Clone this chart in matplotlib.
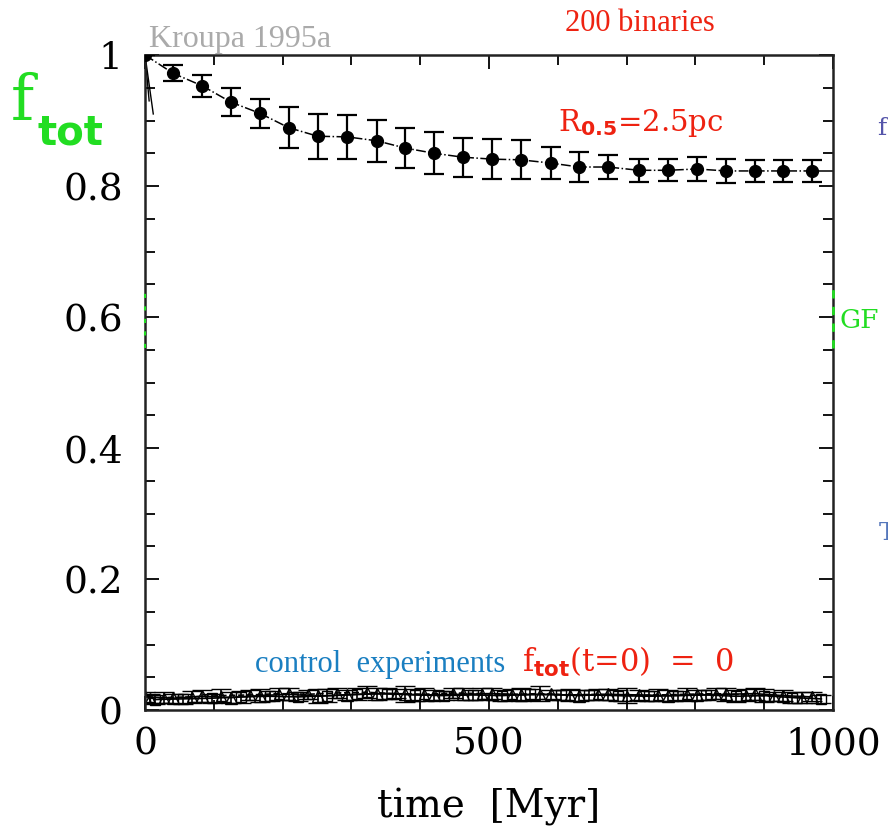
import matplotlib.pyplot as plt
import matplotlib.ticker as mticker

# main run: 200 binaries, R_0.5 = 2.5 pc
t_main = [0, 41, 83, 125, 167, 209, 251, 294, 337, 378, 420, 462,
          505, 546, 590, 631, 673, 718, 760, 802, 845, 886, 927, 969]
f_main = [1.0, 0.972, 0.953, 0.928, 0.911, 0.889, 0.876, 0.875, 0.869, 0.858, 0.850, 0.844,
          0.841, 0.840, 0.835, 0.829, 0.829, 0.824, 0.824, 0.826, 0.823, 0.823, 0.823, 0.823]
e_main = [0.0, 0.012, 0.017, 0.021, 0.022, 0.031, 0.034, 0.034, 0.032, 0.030, 0.032, 0.030,
          0.031, 0.030, 0.025, 0.023, 0.019, 0.018, 0.017, 0.018, 0.018, 0.017, 0.017, 0.017]

# control experiments, f_tot(t=0) = 0
t_ctrl_a = [0, 41, 83, 125, 167, 209, 251, 294, 337, 378, 420, 462,
            505, 546, 590, 631, 673, 718, 760, 802, 845, 886, 927, 969]
f_ctrl_a = [0.020, 0.018, 0.021, 0.019, 0.022, 0.024, 0.021, 0.023, 0.025, 0.024, 0.023, 0.024,
            0.025, 0.023, 0.024, 0.022, 0.024, 0.023, 0.022, 0.023, 0.024, 0.025, 0.022, 0.020]
t_ctrl_b = [14, 55, 97, 139, 181, 223, 265, 308, 351, 392, 434, 476,
            519, 560, 604, 645, 687, 732, 774, 816, 859, 900, 941, 983]
f_ctrl_b = [0.016, 0.017, 0.018, 0.020, 0.021, 0.020, 0.022, 0.024, 0.025, 0.023, 0.022, 0.023,
            0.022, 0.024, 0.023, 0.023, 0.022, 0.021, 0.022, 0.023, 0.021, 0.022, 0.019, 0.017]
t_ctrl_c = [7, 28, 69, 111, 153, 195, 237, 279, 322, 365, 406, 448,
            490, 533, 574, 618, 659, 701, 746, 788, 830, 873, 914, 955]
f_ctrl_c = [0.018, 0.019, 0.020, 0.022, 0.023, 0.025, 0.024, 0.026, 0.027, 0.025, 0.024, 0.026,
            0.025, 0.024, 0.025, 0.023, 0.024, 0.022, 0.023, 0.024, 0.025, 0.023, 0.021, 0.019]
e_ctrl_a = [0.008, 0.007, 0.009, 0.008, 0.010, 0.009, 0.011, 0.008, 0.009, 0.012, 0.008, 0.009,
            0.008, 0.010, 0.007, 0.009, 0.008, 0.007, 0.009, 0.008, 0.010, 0.009, 0.008, 0.007]
e_ctrl_b = [0.007, 0.008, 0.007, 0.009, 0.008, 0.007, 0.010, 0.009, 0.008, 0.009, 0.007, 0.008,
            0.009, 0.008, 0.008, 0.007, 0.009, 0.008, 0.007, 0.008, 0.009, 0.010, 0.008, 0.006]

# vertical drop at t=0 and the GF marks
t_drop = [0, 0]
f_drop = [1.0, 0.0]
f_gf = [0.553, 0.646]

fig = plt.figure(figsize=(8.88, 8.31), dpi=100)
ax = fig.add_axes([0.1633, 0.1456, 0.7748, 0.7882])

ax.plot(t_drop, f_drop, color='k', lw=1.2, ls=(0, (5, 3)))
ax.plot([t_main[0], 12], [f_main[0], 0.91], color='k', lw=1.0)
ax.plot([t_main[0], 6], [f_main[0], 0.93], color='k', lw=1.0)
ax.plot([0, 0], f_gf, color='#22dd22', lw=1.5, ls=(0, (2, 4)), zorder=5, clip_on=False)
ax.plot([1000, 1000], f_gf, color='#22dd22', lw=2.0, ls=(0, (3, 3)), zorder=5, clip_on=False)

ax.errorbar(t_main, f_main, yerr=e_main, fmt='o', color='k', ms=8.5,
            ecolor='k', elinewidth=1.6, capsize=7, capthick=1.6, zorder=4)
ax.plot(t_main, f_main, color='k', lw=1.1, ls='-.')
ax.plot([t_main[-1], 1000], [f_main[-1], f_main[-1]], color='k', lw=1.1)

ax.errorbar(t_ctrl_a, f_ctrl_a, yerr=e_ctrl_a, fmt='^-', color='k', ms=8, mfc='none',
            lw=1.2, elinewidth=1.2, capsize=7)
ax.errorbar(t_ctrl_b, f_ctrl_b, yerr=e_ctrl_b, fmt='s-', color='k', ms=7, mfc='none',
            lw=1.2, elinewidth=1.2, capsize=7)
ax.errorbar(t_ctrl_c, f_ctrl_c, yerr=e_ctrl_a[::-1], fmt='^--', color='k', ms=7, mfc='none',
            lw=1.2, elinewidth=1.2, capsize=7)

ax.set_xlim(0, 1000)
ax.set_ylim(0, 1)
ax.xaxis.set_major_locator(mticker.MultipleLocator(500))
ax.xaxis.set_minor_locator(mticker.MultipleLocator(100))
ax.yaxis.set_major_locator(mticker.MultipleLocator(0.2))
ax.yaxis.set_minor_locator(mticker.MultipleLocator(0.05))
ax.yaxis.set_major_formatter(mticker.FormatStrFormatter('%g'))
ax.tick_params(which='both', direction='in', top=True, right=True, width=1.3,
               labelsize=27)
ax.tick_params(axis='y', pad=16)
ax.tick_params(axis='x', pad=12)
ax.tick_params(which='major', length=10)
ax.tick_params(which='minor', length=7)
for lab in ax.get_xticklabels() + ax.get_yticklabels():
    lab.set_family('DejaVu Serif')
for sp in ax.spines.values():
    sp.set_linewidth(1.8)
    sp.set_color('#222222')

ax.set_xlabel('time  [Myr]', family='DejaVu Serif', fontsize=28, labelpad=18)

# annotations
fig.text(0.012, 0.855, 'f', color='#22dd22', family='DejaVu Serif', fontsize=45)
fig.text(0.042, 0.826, 'tot', color='#22dd22', family='DejaVu Sans', fontsize=29,
         weight='bold')
fig.text(0.168, 0.943, 'Kroupa 1995a', color='#aaaaaa', family='Liberation Serif',
         fontsize=23)
fig.text(0.721, 0.963, '200 binaries', color='#ee2211', family='Liberation Serif',
         fontsize=22, ha='center')
fig.text(0.628, 0.842, r'R$_{\mathbf{0.5}}$=2.5pc', color='#ee2211',
         family='DejaVu Serif', fontsize=21)
fig.text(0.945, 0.605, 'GF', color='#22dd22', family='DejaVu Serif', fontsize=19)
fig.text(0.287, 0.191, 'control  experiments', color='#1a7fc1',
         family='Liberation Serif', fontsize=22)
fig.text(0.588, 0.191, r'f$_{\mathbf{tot}}$(t=0)  =  0', color='#ee2211',
         family='DejaVu Serif', fontsize=22)
fig.text(0.988, 0.838, 'f', color='#5555aa', family='DejaVu Serif', fontsize=18)
fig.text(0.990, 0.35, 'T', color='#5577bb', family='DejaVu Serif', fontsize=18)

fig.savefig('out.png', dpi=100)
